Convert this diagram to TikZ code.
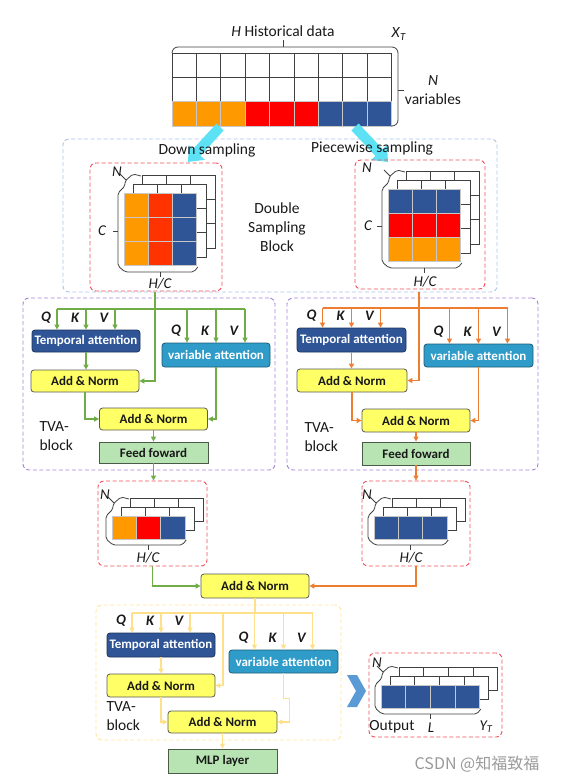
\documentclass[tikz,border=0pt]{standalone}
\usepackage{fontspec}
\setmainfont{Carlito}
\newfontfamily\cjkfont{Noto Sans CJK SC}
\usetikzlibrary{arrows.meta}

\definecolor{cellorange}{HTML}{FF9900}
\definecolor{cellred}{HTML}{FF0000}
\definecolor{cellredor}{HTML}{FF3300}
\definecolor{cellblue}{HTML}{2F5597}
\definecolor{attblue}{HTML}{2F5597}
\definecolor{attteal}{HTML}{2E9BC8}
\definecolor{normyellow}{HTML}{FFFF66}
\definecolor{ffgreen}{HTML}{B8E4B4}
\definecolor{flowgreen}{HTML}{70AD47}
\definecolor{floworange}{HTML}{ED7D31}
\definecolor{flowyellow}{HTML}{FFE08A}
\definecolor{dashblue}{HTML}{A9C4EB}
\definecolor{dashpurple}{HTML}{A582D8}
\definecolor{dashred}{HTML}{F0505A}
\definecolor{dashyellow}{HTML}{FFE699}
\definecolor{samplecyan}{HTML}{5CE1F5}
\definecolor{chevblue}{HTML}{5B9BD5}

% left, top, columns, rows, cell width, cell height
\newcommand{\backlayer}[6]{%
  \foreach \i in {1,...,#3}{\foreach \j in {1,...,#4}{
    \draw[backcell] ({#1+(\i-1)*#5},{#2+(\j-1)*#6}) rectangle ++(#5,#6);}}}
% left, top, right, bottom of the front layer
\newcommand{\stackframe}[4]{%
  \draw[frameline, rounded corners=2pt] ({#1+17},{#2-17}) -- ({#1+9},{#2-19})
    -- ({#1+1},{#2-12}) -- ({#1+1},{#2-7}) -- ({#1-6},{#2}) -- ({#1-6},{#4})
    -- ({#1+1},{#4+6}) -- ({#3-3},{#4+6}) -- ({#3+1},{#4+1});
  \draw[frameline] ({#1-4},{#2-19}) -- ({#1+2},{#2-13});
  \draw[frameline] ({(#1+#3)/2},{#4+6}) -- ({(#1+#3)/2},{#4+11});}

\begin{document}
\begin{tikzpicture}[x=1pt, y=-1pt, every node/.style={text=black!90},
  lbl/.style={font=\fontsize{15.5}{19}\selectfont, align=center},
  ilbl/.style={font=\fontsize{15}{17}\selectfont\itshape},
  qkv/.style={font=\fontsize{14.5}{16}\selectfont\bfseries\itshape},
  blk/.style={draw=black!65, line width=0.8pt, rounded corners=3pt, minimum width=108pt,
              minimum height=23pt, inner sep=0pt, font=\fontsize{13}{15}\selectfont\bfseries},
  tatt/.style={blk, fill=attblue, draw=attblue!60!black, text=white},
  vatt/.style={blk, fill=attteal, draw=attteal!60!black, text=white},
  addn/.style={blk, fill=normyellow},
  ffwd/.style={blk, fill=ffgreen, draw=ffgreen!40!black, rounded corners=0pt},
  region/.style={draw, line width=0.9pt, dash pattern=on 4pt off 2.5pt, rounded corners=6pt, inner sep=0pt},
  backcell/.style={draw=black!75, fill=white, line width=0.8pt},
  frontcell/.style={draw=black!22, line width=1pt},
  frameline/.style={draw=black!75, line width=0.8pt},
  tip/.style={-{Triangle[length=5pt,width=5pt]}},
  glink/.style={draw=flowgreen, line width=1.7pt},
  olink/.style={draw=floworange, line width=1.7pt},
  ylink/.style={draw=flowyellow, line width=1.7pt},
  cyanarr/.style={draw=samplecyan, line width=10pt, -{Triangle[length=13pt,width=21pt]}}]
  \useasboundingbox (0,0) rectangle (562,782);

  % historical series X_T
  \foreach \i in {0,...,8}{\foreach \j in {0,1}{
    \draw[backcell] ({172+\i*24.4},{53+\j*24.4}) rectangle ++(24.4,24.4);}}
  \foreach \c [count=\i from 0] in {cellorange,cellorange,cellorange,cellred,cellred,cellred,cellblue,cellblue,cellblue}
    \draw[frontcell, fill=\c] ({172+\i*24.4},101.8) rectangle ++(24.4,24.4);
  \draw[frameline, rounded corners=6pt] (172,53) -- (172,47) -- (398,47) -- (398,126) -- (391,126);
  \draw[frameline] (283,47) -- (283,40) (398,90) -- (404,90);
  \node[lbl] (hist) at (283,31) {\textit{H} Historical data};
  \node[lbl] (xt) at (399,34) {\textit{X}\textsubscript{\textit{T}}};
  \node[lbl] (nvar) at (433,90) {\textit{N}\\variables};

  % double sampling block
  \node[region, draw=dashblue, minimum width=434pt, minimum height=153pt] (dsb) at (280,215.5) {};
  \coordinate (dsin) at (220,127);
  \coordinate (dsout) at (188,162);
  \coordinate (psin) at (355,127);
  \coordinate (psout) at (388,162);
  \draw[cyanarr] (dsin) -- (dsout);
  \draw[cyanarr] (psin) -- (psout);
  \node[lbl] (dslbl) at (207,150) {Down sampling};
  \node[lbl] (pslbl) at (372,148) {Piecewise sampling};
  \node[lbl] (dsbl) at (277,227) {Double\\Sampling\\Block};

  \node[region, draw=dashred, minimum width=132pt, minimum height=128pt] (dsbox) at (156,227) {};
  \backlayer{142}{175}{3}{3}{24.3}{24.3}
  \backlayer{133}{184}{3}{3}{24.3}{24.3}
  \foreach \c [count=\i from 0] in {cellorange,cellredor,cellblue}{\foreach \j in {0,1,2}{
    \draw[frontcell, fill=\c] ({124+\i*24.3},{193+\j*24.3}) rectangle ++(24.3,24.3);}}
  \stackframe{124}{193}{196.9}{265.9}
  \draw[frameline] (118,231) -- (113,231);
  \node[ilbl] (dsn) at (117,172) {N};
  \node[ilbl] (dsc) at (102,231) {C};
  \node[ilbl] (dshc) at (160,284) {H/C};

  \node[region, draw=dashred, minimum width=130pt, minimum height=129pt] (psbox) at (420,224.5) {};
  \backlayer{406}{171}{3}{3}{24.3}{24.3}
  \backlayer{397}{180}{3}{3}{24.3}{24.3}
  \foreach \c [count=\j from 0] in {cellblue,cellred,cellorange}{\foreach \i in {0,1,2}{
    \draw[frontcell, fill=\c] ({388+\i*24.3},{189+\j*24.3}) rectangle ++(24.3,24.3);}}
  \stackframe{388}{189}{460.9}{261.9}
  \draw[frameline] (382,226) -- (377,226);
  \node[ilbl] (psn) at (367,168) {N};
  \node[ilbl] (psc) at (368,226) {C};
  \node[ilbl] (pshc) at (425,282) {H/C};

  % two TVA blocks
  \node[region, draw=dashpurple, minimum width=252pt, minimum height=172pt] (ltva) at (149,384) {};
  \node[region, draw=dashpurple, minimum width=251pt, minimum height=172pt] (rtva) at (412.5,384) {};
  \node[tatt, minimum height=22pt] (lt) at (86,341) {Temporal attention};
  \node[vatt, minimum height=24pt] (lv) at (216,355) {variable attention};
  \node[addn, minimum height=22pt] (la1) at (85,381) {Add \& Norm};
  \node[addn, minimum height=22pt] (la2) at (153.5,419) {Add \& Norm};
  \node[ffwd, minimum width=109pt, minimum height=21pt] (lf) at (153.5,452.5) {Feed foward};
  \node[lbl, align=left, anchor=west] (ltlbl) at (36,436) {TVA-\\block};

  \node[tatt, minimum width=109pt, minimum height=24pt] (rt) at (351.5,340) {Temporal attention};
  \node[vatt, minimum width=109pt] (rv) at (478.5,355.5) {variable attention};
  \node[addn, minimum width=110pt] (ra1) at (352,380.5) {Add \& Norm};
  \node[addn] (ra2) at (416,420.5) {Add \& Norm};
  \node[ffwd] (rf) at (416,453.5) {Feed foward};
  \node[lbl, align=left, anchor=west] (rtlbl) at (301,437) {TVA-\\block};

  \coordinate (lin) at (155,292);
  \coordinate (lbus) at (0,309);
  \coordinate (rin) at (419,292);
  \coordinate (rbus) at (0,308);
  \draw[glink, tip] (lin) |- (la1.east);
  \draw[glink] ([xshift=-29pt]lt.north |- lbus) -- ([xshift=29pt]lv.north |- lbus);
  \foreach \n in {lt,lv}{\foreach \d in {-29,0,29}{
    \draw[glink, tip] ([xshift=\d pt]\n.north |- lbus) -- ([xshift=\d pt]\n.north);}}
  \draw[glink, tip] (lt.south) -- (lt.south |- la1.north);
  \draw[glink, tip] (la1.south) |- (la2.west);
  \draw[glink, tip] (lv.south) |- (la2.east);
  \draw[glink, tip] (la2.south) -- (lf.north);

  \draw[olink, tip] (rin) |- (ra1.east);
  \draw[olink] ([xshift=-29pt]rt.north |- rbus) -- ([xshift=29pt]rv.north |- rbus);
  \foreach \n in {rt,rv}{\foreach \d in {-29,0,29}{
    \draw[olink, tip] ([xshift=\d pt]\n.north |- rbus) -- ([xshift=\d pt]\n.north);}}
  \draw[olink, tip] (rt.south) -- (rt.south |- ra1.north);
  \draw[olink, tip] (ra1.south) |- (ra2.west);
  \draw[olink, tip] (rv.south) |- (ra2.east);
  \draw[olink, tip] (ra2.south) -- (rf.north);

  % sampled outputs
  \node[region, draw=dashred, minimum width=109pt, minimum height=85pt] (lsb) at (152.5,523.5) {};
  \backlayer{130}{498}{3}{1}{24.4}{23}
  \backlayer{121}{507}{3}{1}{24.4}{23}
  \foreach \c [count=\i from 0] in {cellorange,cellred,cellblue}
    \draw[frontcell, fill=\c] ({112+\i*24.4},516) rectangle ++(24.4,23);
  \stackframe{112}{516}{185.2}{539}
  \node[ilbl] (lsn) at (105,495) {N};
  \node[ilbl] (lshc) at (148,558) {H/C};

  \node[region, draw=dashred, minimum width=108pt, minimum height=85pt] (rsb) at (416,523.5) {};
  \backlayer{392}{498}{3}{1}{24.4}{23}
  \backlayer{383}{507}{3}{1}{24.4}{23}
  \foreach \i in {0,1,2}
    \draw[frontcell, fill=cellblue] ({374+\i*24.4},516) rectangle ++(24.4,23);
  \stackframe{374}{516}{447.2}{539}
  \node[ilbl] (rsn) at (367,495) {N};
  \node[ilbl] (rshc) at (411,558) {H/C};

  \node[addn, minimum height=24pt] (a3) at (255,586) {Add \& Norm};
  \draw[glink, tip] (lf.south) -- (lf.south |- lsb.north);
  \draw[olink, tip] (rf.south) -- (rf.south |- rsb.north);
  \draw[glink, tip] (lsb.south) |- (a3.west);
  \draw[olink, tip] (rsb.south) |- (a3.east);

  % last TVA block
  \node[region, draw=dashyellow, minimum width=245pt, minimum height=135pt] (btva) at (218.5,672.5) {};
  \node[tatt, minimum height=24pt] (bt) at (161,645) {Temporal attention};
  \node[vatt, minimum width=109pt] (bv) at (283.5,661.5) {variable attention};
  \node[addn] (ba1) at (161,685.5) {Add \& Norm};
  \node[addn, minimum width=109pt, minimum height=22pt] (ba2) at (222.5,722) {Add \& Norm};
  \node[ffwd, minimum width=109pt, minimum height=24pt] (mlp) at (222.5,761) {MLP layer};
  \node[lbl, align=left, anchor=west] (btlbl) at (103,716) {TVA-\\block};

  \coordinate (bbus) at (0,613);
  \coordinate (bbr) at (223,613);
  \draw[ylink] (a3.south) -- (a3.south |- bbus);
  \draw[ylink] ([xshift=-29pt]bt.north |- bbus) -- ([xshift=29pt]bv.north |- bbus);
  \foreach \n in {bt,bv}{\foreach \d in {-29,0,29}{
    \draw[ylink, tip] ([xshift=\d pt]\n.north |- bbus) -- ([xshift=\d pt]\n.north);}}
  \draw[ylink, tip] (bbr) |- (ba1.east);
  \draw[ylink, tip] (bt.south) -- (bt.south |- ba1.north);
  \draw[ylink, tip] (ba1.south) |- (ba2.west);
  \draw[ylink, tip] (bv.south) -- ++(0,25) -- ++(6,0) |- (ba2.east);
  \draw[ylink, tip] (ba2.south) -- (mlp.north);

  \foreach \n in {lt,lv,rt,rv,bt,bv}{\foreach \l/\d in {Q/-29,K/0,V/29}{
    \node[qkv] (\n\l) at ([xshift={(\d-11)*1pt}, yshift=12pt]\n.north) {\l};}}

  % output Y_T
  \fill[chevblue] (347,675) -- (357,675) -- (366,691) -- (357,707) -- (347,707) -- (356,691) -- cycle;
  \node[region, draw=dashred, minimum width=133pt, minimum height=84pt] (outbox) at (435.5,695) {};
  \backlayer{399}{667}{4}{1}{24.7}{23}
  \backlayer{390}{676}{4}{1}{24.7}{23}
  \foreach \i in {0,...,3}
    \draw[frontcell, fill=cellblue] ({381+\i*24.7},685) rectangle ++(24.7,23);
  \stackframe{381}{685}{479.8}{708}
  \node[ilbl] (outn) at (377,663) {N};
  \node[lbl] (outlbl) at (392,727) {Output};
  \node[ilbl] (outl) at (431,728) {L};
  \node[ilbl] (outy) at (486,727) {Y\textsubscript{T}};

  \node[text=black!40, font=\cjkfont\fontsize{16}{18}\selectfont] (csdn) at (477,764) {CSDN @知福致福};
\end{tikzpicture}
\end{document}
